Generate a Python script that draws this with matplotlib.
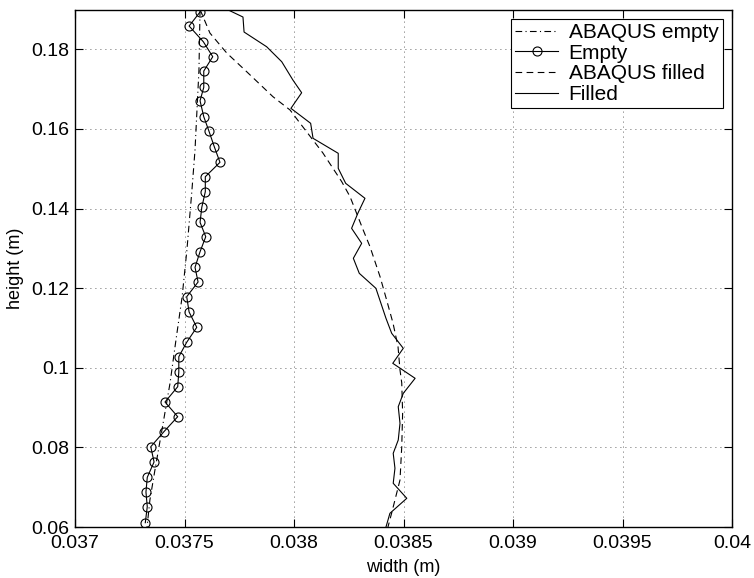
import matplotlib
matplotlib.use("Agg")
import matplotlib.pyplot as plt
import numpy as np

plt.rcParams['font.family'] = ['Liberation Sans', 'DejaVu Sans']

# Measured profile of the empty container (width vs height)
empty_width = [0.037571, 0.037521, 0.037586, 0.037629, 0.037588, 0.037588, 0.037571,
               0.037588, 0.037611, 0.037636, 0.037662, 0.037595, 0.037595, 0.037579,
               0.037571, 0.037597, 0.037571, 0.037548, 0.037562, 0.037510, 0.037521,
               0.037556, 0.037510, 0.037474, 0.037474, 0.037469, 0.037411, 0.037469,
               0.037406, 0.037346, 0.037361, 0.037330, 0.037324, 0.037330, 0.037321]
empty_height = [0.18937, 0.18585, 0.18190, 0.17814, 0.17454, 0.17045, 0.16708,
                0.16306, 0.15955, 0.15553, 0.15161, 0.14799, 0.14423, 0.14031,
                0.13654, 0.13292, 0.12915, 0.12523, 0.12154, 0.11785, 0.11401,
                0.11016, 0.10640, 0.10278, 0.09893, 0.09524, 0.09140, 0.08771,
                0.08394, 0.08017, 0.07633, 0.07248, 0.06879, 0.06510, 0.06108]

# Measured profile of the filled container
filled_width = [0.037680, 0.037767, 0.037772, 0.037875, 0.037944, 0.037995, 0.038035,
                0.037986, 0.038076, 0.038087, 0.038202, 0.038202, 0.038236, 0.038324,
                0.038292, 0.038263, 0.038309, 0.038271, 0.038298, 0.038374, 0.038397,
                0.038420, 0.038446, 0.038499, 0.038451, 0.038553, 0.038499, 0.038476,
                0.038484, 0.038476, 0.038453, 0.038461, 0.038453, 0.038515, 0.038438,
                0.038420]
filled_height = [0.1904, 0.18811, 0.18434, 0.18065, 0.17688, 0.17228, 0.16909,
                 0.16517, 0.16141, 0.15764, 0.15387, 0.15010, 0.14633, 0.14257,
                 0.13887, 0.13503, 0.13126, 0.12750, 0.12373, 0.11996, 0.11619,
                 0.11242, 0.10866, 0.10489, 0.10112, 0.09735, 0.09358, 0.09022,
                 0.08605, 0.08185, 0.07851, 0.07475, 0.07098, 0.06721, 0.06344,
                 0.0600]

# ABAQUS simulation, empty container
abaqus_empty_width = [0.037571, 0.037566, 0.037557, 0.037548, 0.037534, 0.037511,
                      0.037489, 0.037461, 0.037434, 0.037397, 0.037365, 0.037342,
                      0.037329]
abaqus_empty_height = [0.1900, 0.17480, 0.16475, 0.15470, 0.14465, 0.12958,
                       0.11777, 0.10697, 0.09617, 0.08437, 0.07432, 0.06678,
                       0.0600]

# ABAQUS simulation, filled container
abaqus_filled_width = [0.037571, 0.037616, 0.037693, 0.037784, 0.037904, 0.037982,
                       0.038027, 0.038132, 0.038218, 0.038256, 0.038316, 0.038347,
                       0.038393, 0.038423, 0.038452, 0.038475, 0.038484, 0.038492,
                       0.038496, 0.038492, 0.038484, 0.038446, 0.038429]
abaqus_filled_height = [0.1900, 0.18409, 0.17906, 0.17437, 0.16809, 0.16475,
                        0.16148, 0.15395, 0.14674, 0.14297, 0.13460, 0.13041,
                        0.12287, 0.11702, 0.11124, 0.10529, 0.09944, 0.09617,
                        0.08864, 0.08017, 0.07181, 0.06352, 0.0600]

x_ticks = [0.037, 0.0375, 0.038, 0.0385, 0.039, 0.0395, 0.04]
x_tick_labels = ['0.037', '0.0375', '0.038', '0.0385', '0.039', '0.0395', '0.04']
y_ticks = [0.06, 0.08, 0.10, 0.12, 0.14, 0.16, 0.18]
y_tick_labels = ['0.06', '0.08', '0.1', '0.12', '0.14', '0.16', '0.18']

fig = plt.figure(figsize=(7.54, 5.78), dpi=100)
ax = fig.add_axes([75 / 754, 51 / 578, 657 / 754, 517.5 / 578])

lw = 0.8
ax.plot(abaqus_empty_width, abaqus_empty_height, color='black', lw=lw,
        linestyle=(0, (6, 3, 1, 3)), label='ABAQUS empty')
ax.plot(empty_width, empty_height, color='black', lw=lw, marker='o', ms=6.5,
        mfc='none', mec='black', mew=0.8, label='Empty')
ax.plot(abaqus_filled_width, abaqus_filled_height, color='black', lw=lw,
        linestyle=(0, (6, 4)), label='ABAQUS filled')
ax.plot(filled_width, filled_height, color='black', lw=lw, label='Filled')

ax.set_xlim(0.037, 0.04)
ax.set_ylim(0.06, 0.19)
ax.set_xticks(x_ticks)
ax.set_xticklabels(x_tick_labels)
ax.set_yticks(y_ticks)
ax.set_yticklabels(y_tick_labels)

ax.tick_params(direction='in', length=6, width=0.8, top=True, right=True,
               labelsize=14, colors='black')
ax.tick_params(axis='x', pad=6)
ax.tick_params(axis='y', pad=4)
for s in ax.spines.values():
    s.set_linewidth(1.0)

ax.grid(True, color='#333333', linestyle=(0, (1, 5)), linewidth=0.6)

ax.set_xlabel('width (m)', fontsize=13, labelpad=5)
ax.set_ylabel('height (m)', fontsize=13, labelpad=5)

leg = ax.legend(loc='upper right', fontsize=15, frameon=True, fancybox=False,
                edgecolor='black', framealpha=1, handlelength=2.05,
                borderaxespad=0.45, labelspacing=0.08, borderpad=0.2,
                handletextpad=0.5)
leg.get_frame().set_linewidth(0.8)

fig.savefig('out.png', dpi=100)
